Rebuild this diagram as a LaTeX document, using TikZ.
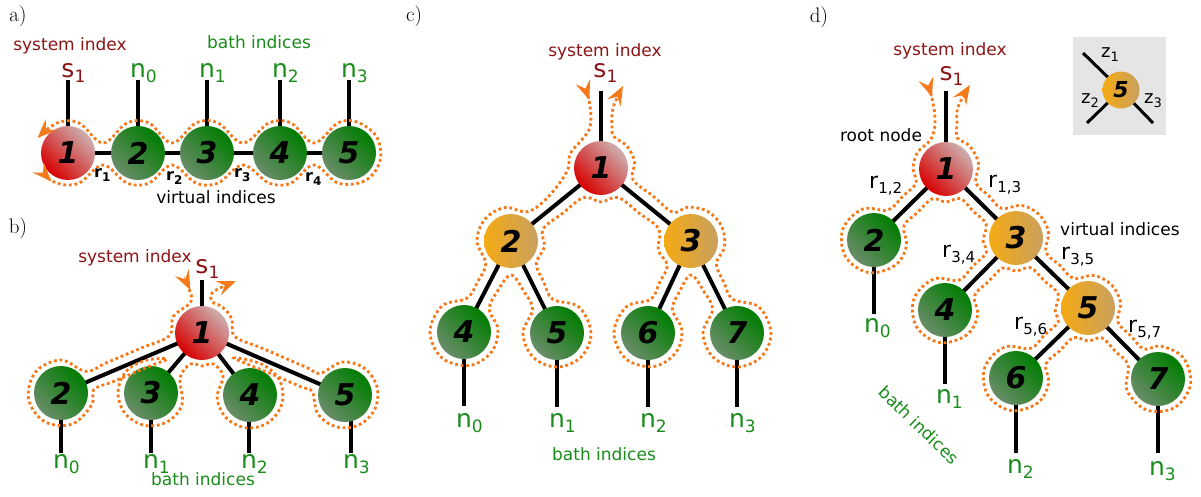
\documentclass[tikz,border=0pt]{standalone}
\usepackage{fontspec}
\newfontfamily\dv{DejaVu Sans}
\usetikzlibrary{calc,arrows.meta}
\pgfdeclarelayer{bg}
\pgfsetlayers{bg,main}
\definecolor{sysred}{RGB}{140,20,20}
\definecolor{bathgreen}{RGB}{25,140,25}
\definecolor{orng}{RGB}{245,120,25}
\definecolor{gA}{RGB}{105,140,105}
\definecolor{gB}{RGB}{0,125,0}
\definecolor{rA}{RGB}{215,0,0}
\definecolor{rB}{RGB}{205,175,175}
\definecolor{oA}{RGB}{245,170,20}
\definecolor{oB}{RGB}{200,160,95}
\definecolor{insetgray}{RGB}{229,229,229}
\newcommand\fs[1]{\fontsize{#1}{#1}\selectfont}
\newcommand\idx[2]{\fs{25}#1\rlap{\raisebox{-5pt}{\fs{17}#2}}}
\newcommand\ridx[1]{\fs{22}r\raisebox{-5pt}{\fs{15}#1}}
\newcommand\bidx[1]{\fs{16}r\raisebox{-4pt}{\fs{12}#1}}
\newcommand\zidx[1]{\fs{18}z\raisebox{-4pt}{\fs{13}#1}}
\begin{document}
\begin{tikzpicture}[x=1pt,y=1pt,
  tn/.style={circle, minimum size=54pt, inner sep=0pt, font=\dv\bfseries\itshape\fs{30}},
  rn/.style={tn, left color=rA, right color=rB, shading angle=135},
  gn/.style={tn, left color=gA, right color=gB, shading angle=135},
  yn/.style={tn, left color=oA, right color=oB},
  bond/.style={line width=4pt},
  lab/.style={font=\dv, inner sep=0pt, anchor=base},
  txt/.style={font=\dv\fs{17}, inner sep=0pt, anchor=base},
  plab/.style={font=\fs{21}, inner sep=0pt},
  cont/.style={draw=orng, fill=none, line width=2.8pt, dash pattern=on 2.8pt off 2.8pt,
    {Stealth[reversed,length=19pt,width=15pt,inset=7pt,fill=orng]}-{Stealth[length=19pt,width=15pt,inset=7pt,fill=orng]}}
]
\useasboundingbox (0,0) rectangle (1201,-496);

% ---------------- panel labels
\node[plab] (pa) at (18,-16) {a)};
\node[plab] (pb) at (18,-228) {b)};
\node[plab] (pc) at (414,-16) {c)};
\node[plab] (pd) at (819,-17) {d)};

% ================= panel a
\node[rn] (a1) at (68,-153) {1};
\node[gn] (a2) at (138,-153) {2};
\node[gn] (a3) at (207,-153) {3};
\node[gn] (a4) at (280,-153) {4};
\node[gn] (a5) at (349,-153) {5};
\foreach \n/\x in {1/68,2/138,3/207,4/280,5/349} \coordinate (al\n) at (\x,-80);
\begin{pgfonlayer}{bg}
\draw[line width=3.5pt] (a1.center) -- (a2.center) -- (a3.center) -- (a4.center) -- (a5.center);
\foreach \n in {1,...,5} \draw[bond] (a\n.center) -- (al\n);
\end{pgfonlayer}
\node[lab, text=sysred] (as) at (68,-77) {\idx{s}{1}};
\node[lab, text=bathgreen] (an0) at (138,-77) {\idx{n}{0}};
\node[lab, text=bathgreen] (an1) at (207,-77) {\idx{n}{1}};
\node[lab, text=bathgreen] (an2) at (280,-77) {\idx{n}{2}};
\node[lab, text=bathgreen] (an3) at (349,-77) {\idx{n}{3}};
\node[txt, text=sysred] (asys) at (70,-50) {system index};
\node[txt, text=bathgreen] (abath) at (259,-48) {bath indices};
\node[lab, anchor=base west, font=\dv\bfseries] (ar1) at (94,-177) {\bidx{1}};
\node[lab, anchor=base west, font=\dv\bfseries] (ar2) at (166,-180) {\bidx{2}};
\node[lab, anchor=base west, font=\dv\bfseries] (ar3) at (234,-177) {\bidx{3}};
\node[lab, anchor=base west, font=\dv\bfseries] (ar4) at (305,-181) {\bidx{4}};
\node[txt] (avirt) at (216,-203) {virtual indices};
\draw[cont] plot[smooth,tension=.6] coordinates {
 ($(a1)+(206:33)$) ($(a1)+(250:32)$) ($(a1)+(290:32)$) (103,-165)
 ($(a2)+(250:32)$) ($(a2)+(290:32)$) (172,-165)
 ($(a3)+(250:32)$) ($(a3)+(290:32)$) (243,-165)
 ($(a4)+(250:32)$) ($(a4)+(290:32)$) (314,-165)
 ($(a5)+(250:32)$) ($(a5)+(300:32)$) ($(a5)+(345:32)$) ($(a5)+(30:32)$) ($(a5)+(75:32)$) ($(a5)+(110:32)$) (314,-143)
 ($(a4)+(70:32)$) ($(a4)+(110:32)$) (243,-143)
 ($(a3)+(70:32)$) ($(a3)+(110:32)$) (172,-143)
 ($(a2)+(70:32)$) ($(a2)+(110:32)$) (103,-143)
 ($(a1)+(70:32)$) ($(a1)+(110:32)$) ($(a1)+(154:34)$)};

% ================= panel b
\node[rn] (b1) at (202,-333) {1};
\node[gn] (b2) at (61,-393) {2};
\node[gn] (b3) at (151,-393) {3};
\node[gn] (b4) at (250,-395) {4};
\node[gn] (b5) at (345,-395) {5};
\coordinate (bs) at (202,-280);
\coordinate (bl2) at (61,-453);
\coordinate (bl3) at (151,-453);
\coordinate (bl4) at (249,-453);
\coordinate (bl5) at (351,-453);
\begin{pgfonlayer}{bg}
\draw[bond] (b1.center) -- (bs);
\foreach \n in {2,...,5} {\draw[bond] (b1.center) -- (b\n.center); \draw[bond] (bl\n |- b\n) -- (bl\n);}
\end{pgfonlayer}
\node[lab, text=sysred] (bsl) at (202,-273) {\idx{s}{1}};
\node[lab, text=bathgreen] (bn0) at (61,-468) {\idx{n}{0}};
\node[lab, text=bathgreen] (bn1) at (151,-468) {\idx{n}{1}};
\node[lab, text=bathgreen] (bn2) at (249,-468) {\idx{n}{2}};
\node[lab, text=bathgreen] (bn3) at (351,-468) {\idx{n}{3}};
\node[txt, text=sysred] (bsys) at (135,-262) {system index};
\node[txt, text=bathgreen] (bbath) at (203,-485) {bath indices};
\draw[cont] plot[smooth,tension=.6] coordinates {
 (182,-273) (189,-289) ($(b1)+(110:33)$) ($(b1)+(150:33)$) ($(b1)+(185:33)$)
 ($(b1)!.4!(b2)!10pt!-90:(b2)$) ($(b1)!.65!(b2)!10pt!-90:(b2)$)
 ($(b2)+(41:33)$) ($(b2)+(90:33)$) ($(b2)+(140:33)$) ($(b2)+(190:33)$) ($(b2)+(240:33)$) ($(b2)+(290:33)$) ($(b2)+(340:33)$) ($(b2)+(6:33)$)
 ($(b2)!.35!(b1)!10pt!-90:(b1)$) ($(b2)!.6!(b1)!10pt!-90:(b1)$) (167,-359)
 ($(b3)+(100:33)$) ($(b3)+(140:33)$) ($(b3)+(180:33)$) ($(b3)+(220:33)$) ($(b3)+(260:33)$) ($(b3)+(300:33)$) ($(b3)+(340:33)$) ($(b3)+(28:33)$)
 ($(b1)+(250:33)$) ($(b1)+(270:33)$) ($(b1)+(290:33)$)
 ($(b4)+(145:33)$) ($(b4)+(185:33)$) ($(b4)+(225:33)$) ($(b4)+(265:33)$) ($(b4)+(305:33)$) ($(b4)+(345:33)$) ($(b4)+(25:33)$) ($(b4)+(68:33)$)
 (234,-358)
 ($(b1)!.5!(b5)!10pt!-90:(b5)$) ($(b1)!.72!(b5)!10pt!-90:(b5)$)
 ($(b5)+(174:33)$) ($(b5)+(215:33)$) ($(b5)+(255:33)$) ($(b5)+(295:33)$) ($(b5)+(335:33)$) ($(b5)+(15:33)$) ($(b5)+(55:33)$) ($(b5)+(95:33)$) ($(b5)+(139:33)$)
 ($(b5)!.3!(b1)!10pt!-90:(b1)$) ($(b5)!.6!(b1)!10pt!-90:(b1)$)
 ($(b1)+(354:33)$) ($(b1)+(25:33)$) ($(b1)+(52:33)$) ($(b1)+(72:33)$) (213,-292) (236,-281)};

% ================= panel c
\node[rn] (c1) at (601,-168) {1};
\node[yn] (c2) at (511,-241) {2};
\node[yn] (c3) at (691,-241) {3};
\node[gn] (c4) at (464,-332) {4};
\node[gn] (c5) at (557,-333) {5};
\node[gn] (c6) at (648,-333) {6};
\node[gn] (c7) at (737,-333) {7};
\coordinate (cs) at (601,-91);
\foreach \n in {4,...,7} \coordinate (cl\n) at ($(c\n)+(0,-74)$);
\begin{pgfonlayer}{bg}
\draw[bond] (c1.center) -- (cs);
\draw[bond] (c1.center) -- (c2.center);
\draw[bond] (c1.center) -- (c3.center);
\draw[bond] (c2.center) -- (c4.center);
\draw[bond] (c2.center) -- (c5.center);
\draw[bond] (c3.center) -- (c6.center);
\draw[bond] (c3.center) -- (c7.center);
\foreach \n in {4,...,7} \draw[bond] (c\n.center) -- (cl\n);
\end{pgfonlayer}
\node[lab, text=sysred] (csl) at (600,-77) {\idx{s}{1}};
\node[lab, text=bathgreen] (cn0) at (464,-427) {\idx{n}{0}};
\node[lab, text=bathgreen] (cn1) at (557,-427) {\idx{n}{1}};
\node[lab, text=bathgreen] (cn2) at (648,-427) {\idx{n}{2}};
\node[lab, text=bathgreen] (cn3) at (737,-427) {\idx{n}{3}};
\node[txt, text=sysred] (csys) at (605,-56) {system index};
\node[txt, text=bathgreen] (cbath) at (604,-460) {bath indices};
\draw[cont] plot[smooth,tension=.6] coordinates {
 (583,-82) (590,-106) (590,-127) ($(c1)+(125:34)$) ($(c1)+(155:34)$) ($(c1)+(185:34)$)
 ($(c1)!.5!(c2)!11pt!-90:(c2)$)
 ($(c2)+(60:34)$) ($(c2)+(100:34)$) ($(c2)+(140:34)$) ($(c2)+(180:34)$) ($(c2)+(222:34)$)
 ($(c2)!.5!(c4)!11pt!-90:(c4)$)
 ($(c4)+(85:34)$) ($(c4)+(130:34)$) ($(c4)+(180:34)$) ($(c4)+(230:34)$) ($(c4)+(280:34)$) ($(c4)+(325:34)$) ($(c4)+(5:34)$) ($(c4)+(42:34)$)
 ($(c4)!.5!(c2)!11pt!-90:(c2)$)
 ($(c2)+(270:34)$)
 ($(c2)!.5!(c5)!11pt!-90:(c5)$)
 ($(c5)+(136:34)$) ($(c5)+(180:34)$) ($(c5)+(225:34)$) ($(c5)+(270:34)$) ($(c5)+(315:34)$) ($(c5)+(0:34)$) ($(c5)+(50:34)$) ($(c5)+(97:34)$)
 ($(c5)!.5!(c2)!11pt!-90:(c2)$)
 ($(c2)+(318:34)$) ($(c2)+(350:34)$) ($(c2)+(20:34)$)
 ($(c2)!.5!(c1)!11pt!-90:(c1)$)
 ($(c1)+(240:34)$) ($(c1)+(270:34)$) ($(c1)+(300:34)$)
 ($(c1)!.5!(c3)!11pt!-90:(c3)$)
 ($(c3)+(160:34)$) ($(c3)+(195:34)$) ($(c3)+(226:34)$)
 ($(c3)!.5!(c6)!11pt!-90:(c6)$)
 ($(c6)+(85:34)$) ($(c6)+(130:34)$) ($(c6)+(180:34)$) ($(c6)+(230:34)$) ($(c6)+(280:34)$) ($(c6)+(325:34)$) ($(c6)+(5:34)$) ($(c6)+(44:34)$)
 ($(c6)!.5!(c3)!11pt!-90:(c3)$)
 ($(c3)+(270:34)$)
 ($(c3)!.5!(c7)!11pt!-90:(c7)$)
 ($(c7)+(136:34)$) ($(c7)+(180:34)$) ($(c7)+(225:34)$) ($(c7)+(270:34)$) ($(c7)+(315:34)$) ($(c7)+(0:34)$) ($(c7)+(50:34)$) ($(c7)+(97:34)$)
 ($(c7)!.5!(c3)!11pt!-90:(c3)$)
 ($(c3)+(318:34)$) ($(c3)+(350:34)$) ($(c3)+(25:34)$) ($(c3)+(60:34)$) ($(c3)+(95:34)$) ($(c3)+(122:34)$)
 ($(c3)!.5!(c1)!11pt!-90:(c1)$)
 ($(c1)+(340:34)$) ($(c1)+(10:34)$) ($(c1)+(40:34)$) ($(c1)+(68:34)$)
 (612,-127) (613,-108) (623,-86)};

% ================= panel d
\node[rn] (d1) at (946,-169) {1};
\node[gn] (d2) at (874,-240) {2};
\node[yn] (d3) at (1016,-238) {3};
\node[gn] (d4) at (945,-310) {4};
\node[yn] (d5) at (1088,-308) {5};
\node[gn] (d6) at (1016,-378) {6};
\node[gn] (d7) at (1158,-379) {7};
\coordinate (ds) at (946,-91);
\coordinate (dl2) at (874,-314);
\coordinate (dl4) at (945,-384);
\coordinate (dl6) at (1016,-453);
\coordinate (dl7) at (1158,-453);
\begin{pgfonlayer}{bg}
\draw[bond] (d1.center) -- (ds);
\draw[bond] (d1.center) -- (d2.center);
\draw[bond] (d1.center) -- (d3.center);
\draw[bond] (d3.center) -- (d4.center);
\draw[bond] (d3.center) -- (d5.center);
\draw[bond] (d5.center) -- (d6.center);
\draw[bond] (d5.center) -- (d7.center);
\foreach \n in {2,4,6,7} \draw[bond] (d\n.center) -- (dl\n);
\end{pgfonlayer}
\node[lab, text=sysred] (dsl) at (946,-80) {\idx{s}{1}};
\node[lab, text=bathgreen] (dn0) at (872,-332) {\idx{n}{0}};
\node[lab, text=bathgreen] (dn1) at (944,-403) {\idx{n}{1}};
\node[lab, text=bathgreen] (dn2) at (1015,-473) {\idx{n}{2}};
\node[lab, text=bathgreen] (dn3) at (1157,-475) {\idx{n}{3}};
\node[txt, text=sysred] (dsys) at (950,-55) {system index};
\node[txt] (droot) at (881,-141) {root node};
\node[txt, anchor=base west] (dvirt) at (1060,-235) {virtual indices};
\node[lab, anchor=base west] (dr12) at (869,-188) {\ridx{1,2}};
\node[lab, anchor=base west] (dr13) at (988,-187) {\ridx{1,3}};
\node[lab, anchor=base west] (dr34) at (942,-257) {\ridx{3,4}};
\node[lab, anchor=base west] (dr35) at (1061,-259) {\ridx{3,5}};
\node[lab, anchor=base west] (dr56) at (1014,-329) {\ridx{5,6}};
\node[lab, anchor=base west] (dr57) at (1128,-332) {\ridx{5,7}};
\node[txt, anchor=center, rotate=-44, text=bathgreen] (dbath) at (919,-425) {bath indices};
\draw[cont] plot[smooth,tension=.6] coordinates {
 (926,-79) (933,-103) (935,-124) ($(d1)+(118:33)$) ($(d1)+(150:33)$) ($(d1)+(180:33)$) ($(d1)+(205:33)$)
 ($(d1)!.5!(d2)!11pt!-90:(d2)$)
 ($(d2)+(65:33)$) ($(d2)+(110:33)$) ($(d2)+(160:33)$) ($(d2)+(210:33)$) ($(d2)+(260:33)$) ($(d2)+(310:33)$) ($(d2)+(350:33)$) ($(d2)+(25:33)$)
 ($(d2)!.5!(d1)!11pt!-90:(d1)$)
 ($(d1)+(245:33)$) ($(d1)+(270:33)$) ($(d1)+(296:33)$)
 ($(d1)!.5!(d3)!11pt!-90:(d3)$)
 ($(d3)+(155:33)$) ($(d3)+(185:33)$) ($(d3)+(206:33)$)
 ($(d3)!.5!(d4)!11pt!-90:(d4)$)
 ($(d4)+(65:33)$) ($(d4)+(110:33)$) ($(d4)+(160:33)$) ($(d4)+(210:33)$) ($(d4)+(260:33)$) ($(d4)+(310:33)$) ($(d4)+(350:33)$) ($(d4)+(26:33)$)
 ($(d4)!.5!(d3)!11pt!-90:(d3)$)
 ($(d3)+(246:33)$) ($(d3)+(270:33)$) ($(d3)+(296:33)$)
 ($(d3)!.5!(d5)!11pt!-90:(d5)$)
 ($(d5)+(155:33)$) ($(d5)+(185:33)$) ($(d5)+(205:33)$)
 ($(d5)!.5!(d6)!11pt!-90:(d6)$)
 ($(d6)+(64:33)$) ($(d6)+(110:33)$) ($(d6)+(160:33)$) ($(d6)+(210:33)$) ($(d6)+(260:33)$) ($(d6)+(310:33)$) ($(d6)+(350:33)$) ($(d6)+(25:33)$)
 ($(d6)!.5!(d5)!11pt!-90:(d5)$)
 ($(d5)+(244:33)$) ($(d5)+(270:33)$) ($(d5)+(295:33)$)
 ($(d5)!.5!(d7)!11pt!-90:(d7)$)
 ($(d7)+(155:33)$) ($(d7)+(200:33)$) ($(d7)+(250:33)$) ($(d7)+(300:33)$) ($(d7)+(350:33)$) ($(d7)+(40:33)$) ($(d7)+(85:33)$) ($(d7)+(115:33)$)
 ($(d7)!.5!(d5)!11pt!-90:(d5)$)
 ($(d5)+(335:33)$) ($(d5)+(10:33)$) ($(d5)+(45:33)$) ($(d5)+(80:33)$) ($(d5)+(116:33)$)
 ($(d5)!.5!(d3)!11pt!-90:(d3)$)
 ($(d3)+(335:33)$) ($(d3)+(10:33)$) ($(d3)+(45:33)$) ($(d3)+(80:33)$) ($(d3)+(116:33)$)
 ($(d3)!.5!(d1)!11pt!-90:(d1)$)
 ($(d1)+(335:33)$) ($(d1)+(10:33)$) ($(d1)+(45:33)$) ($(d1)+(70:33)$)
 (957,-124) (958,-107) (970,-85)};

% inset
\begin{pgfonlayer}{bg}
\fill[insetgray] (1073,-37) rectangle (1166,-135);
\end{pgfonlayer}
\node[yn, minimum size=37pt, font=\dv\bfseries\itshape\fs{22}] (i5) at (1121,-90) {5};
\coordinate (z1e) at (1083,-53);
\coordinate (z2e) at (1087,-123);
\coordinate (z3e) at (1153,-123);
\begin{pgfonlayer}{bg}
\draw[line width=3pt] (i5.center) -- (z1e);
\draw[line width=3pt] (i5.center) -- (z2e);
\draw[line width=3pt] (i5.center) -- (z3e);
\end{pgfonlayer}
\node[lab, anchor=base west] (z1) at (1101,-57) {\zidx{1}};
\node[lab, anchor=base west] (z2) at (1081,-103) {\zidx{2}};
\node[lab, anchor=base west] (z3) at (1144,-103) {\zidx{3}};
\end{tikzpicture}
\end{document}
